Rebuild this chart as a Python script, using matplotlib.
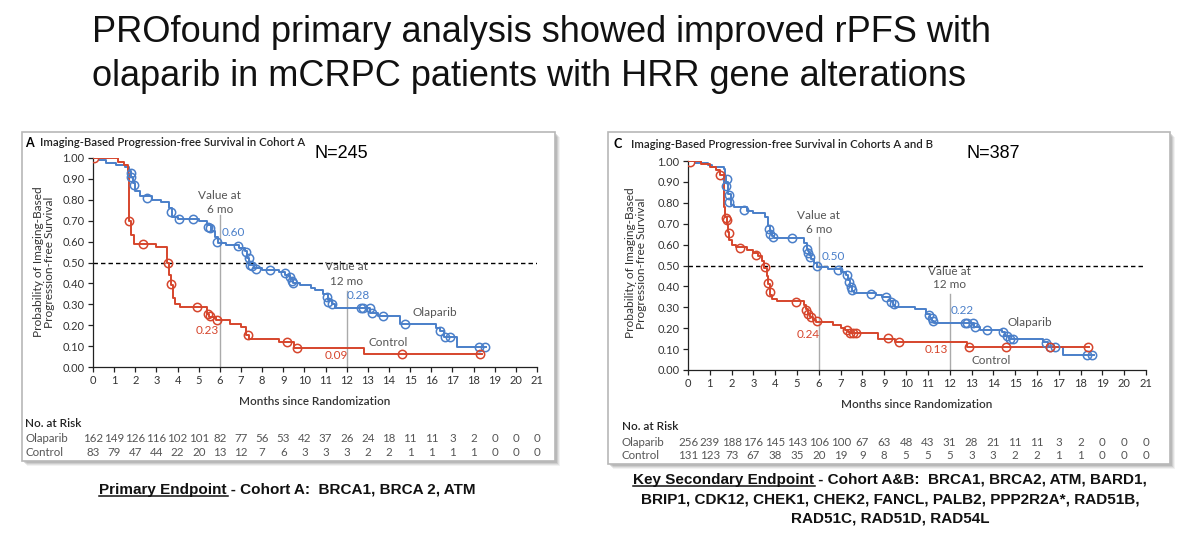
# PROfound rPFS Kaplan-Meier panels (cohort A and cohorts A+B)
import numpy as np
import matplotlib.pyplot as plt
from matplotlib.patches import Rectangle
from matplotlib.lines import Line2D
import matplotlib.transforms as mtransforms

# ---- data ----
months = list(range(22))

# cohort A, olaparib: step times / survival after the step
a_ola_t = [0, 0.3, 0.6, 1.1, 1.5, 1.7, 1.8, 1.9, 2.0, 2.2, 2.8, 3.2, 3.6, 3.75, 4.0, 5.0, 5.4, 5.6, 5.75, 5.9,
           6.3, 6.9, 7.2, 7.3, 7.4, 7.6, 8.0, 8.8, 9.1, 9.3, 9.45, 9.8, 10.3, 10.5, 10.9, 11.1, 11.3, 11.45,
           13.1, 13.5, 14.5, 16.2, 16.4, 16.6, 17.2, 18.6]
a_ola_s = [1.00, 0.99, 0.975, 0.965, 0.955, 0.94, 0.91, 0.88, 0.84, 0.82, 0.80, 0.79, 0.76, 0.72, 0.71, 0.70,
           0.68, 0.65, 0.62, 0.595, 0.585, 0.57, 0.555, 0.52, 0.49, 0.475, 0.465, 0.455, 0.44, 0.42, 0.40,
           0.39, 0.38, 0.37, 0.35, 0.32, 0.30, 0.28, 0.26, 0.245, 0.205, 0.185, 0.17, 0.145, 0.097, 0.097]
a_ola_cens_t = [1.78, 1.82, 1.94, 2.57, 3.7, 4.05, 4.75, 5.45, 5.52, 5.87, 6.87, 7.24, 7.37, 7.43, 7.52, 7.72,
                8.35, 9.06, 9.3, 9.42, 9.48, 11.05, 11.13, 11.29, 12.68, 12.79, 13.1, 13.18, 13.7, 14.76,
                16.41, 16.65, 16.89, 18.27, 18.54]
a_ola_cens_s = [0.93, 0.91, 0.87, 0.81, 0.74, 0.71, 0.71, 0.67, 0.665, 0.60, 0.58, 0.55, 0.52, 0.49, 0.485,
                0.47, 0.465, 0.45, 0.43, 0.41, 0.40, 0.336, 0.312, 0.30, 0.28, 0.28, 0.28, 0.257, 0.245, 0.205,
                0.17, 0.145, 0.145, 0.097, 0.097]

# cohort A, control
a_ctl_t = [0, 1.2, 1.45, 1.65, 1.7, 1.8, 1.95, 3.0, 3.5, 3.6, 3.7, 3.8, 3.9, 4.1, 5.4, 5.5, 5.8, 6.5, 7.0,
           7.25, 7.4, 8.8, 9.5, 12.8, 18.4]
a_ctl_s = [1.0, 0.98, 0.965, 0.93, 0.70, 0.63, 0.59, 0.575, 0.50, 0.44, 0.39, 0.33, 0.30, 0.285, 0.255, 0.24,
           0.223, 0.207, 0.19, 0.155, 0.135, 0.12, 0.093, 0.062, 0.062]
a_ctl_cens_t = [0.05, 1.72, 2.36, 3.57, 3.7, 4.93, 5.45, 5.54, 5.86, 7.32, 9.18, 9.64, 14.6, 18.3]
a_ctl_cens_s = [1.0, 0.70, 0.59, 0.50, 0.395, 0.287, 0.255, 0.242, 0.223, 0.155, 0.12, 0.093, 0.062, 0.062]

# cohorts A and B, olaparib
c_ola_t = [0, 0.3, 0.9, 1.1, 1.65, 1.7, 1.75, 1.85, 1.95, 2.1, 2.7, 3.0, 3.55, 3.65, 3.75, 3.85, 3.95, 5.3,
           5.45, 5.5, 5.55, 5.65, 5.8, 5.9, 6.4, 7.0, 7.25, 7.35, 7.42, 7.5, 7.6, 8.6, 8.9, 9.25, 9.4, 9.5,
           10.4, 10.9, 11.1, 11.2, 11.3, 13.1, 13.4, 14.4, 14.55, 14.7, 16.3, 16.5, 17.2, 18.6]
c_ola_s = [1.0, 0.99, 0.98, 0.97, 0.96, 0.93, 0.90, 0.84, 0.79, 0.78, 0.76, 0.75, 0.73, 0.69, 0.66, 0.64,
           0.63, 0.61, 0.58, 0.57, 0.55, 0.53, 0.51, 0.495, 0.485, 0.47, 0.455, 0.43, 0.40, 0.38, 0.37, 0.36,
           0.35, 0.33, 0.31, 0.30, 0.29, 0.27, 0.25, 0.235, 0.225, 0.205, 0.19, 0.18, 0.165, 0.15, 0.135,
           0.112, 0.072, 0.072]
c_ola_cens_t = [1.76, 1.79, 1.87, 1.9, 2.56, 3.7, 3.78, 3.9, 4.78, 5.47, 5.51, 5.59, 5.93, 6.88, 7.3, 7.38,
                7.46, 7.53, 8.38, 9.07, 9.3, 9.45, 11.06, 11.17, 11.25, 12.7, 12.81, 13.05, 13.15, 13.69,
                14.46, 14.61, 14.76, 14.89, 16.41, 16.6, 16.83, 18.28, 18.54]
c_ola_cens_s = [0.88, 0.916, 0.836, 0.804, 0.767, 0.677, 0.653, 0.637, 0.63, 0.58, 0.56, 0.54, 0.497, 0.48,
                0.454, 0.42, 0.398, 0.382, 0.366, 0.35, 0.326, 0.314, 0.263, 0.247, 0.236, 0.225, 0.225,
                0.225, 0.205, 0.19, 0.18, 0.165, 0.15, 0.15, 0.128, 0.112, 0.112, 0.072, 0.072]

# cohorts A and B, control
c_ctl_t = [0, 0.6, 1.0, 1.3, 1.45, 1.65, 1.7, 1.8, 1.85, 1.9, 2.0, 2.2, 2.7, 3.0, 3.2, 3.4, 3.5, 3.6, 3.65,
           3.75, 3.85, 4.1, 5.3, 5.4, 5.5, 5.6, 5.75, 5.85, 6.67, 7.0, 7.2, 7.35, 7.45, 8.7, 9.5, 12.8, 18.4]
c_ctl_s = [1.0, 0.985, 0.97, 0.955, 0.935, 0.78, 0.73, 0.70, 0.66, 0.62, 0.60, 0.59, 0.575, 0.56, 0.545,
           0.52, 0.49, 0.45, 0.41, 0.36, 0.34, 0.33, 0.31, 0.29, 0.27, 0.255, 0.24, 0.232, 0.215, 0.20, 0.19,
           0.18, 0.175, 0.15, 0.135, 0.108, 0.108]
c_ctl_cens_t = [0.1, 1.48, 1.73, 1.79, 1.87, 2.37, 3.12, 3.55, 3.66, 3.75, 4.93, 5.42, 5.51, 5.62, 5.9, 7.3,
                7.43, 7.58, 7.72, 9.17, 9.67, 12.9, 14.58, 16.6, 18.35]
c_ctl_cens_s = [0.995, 0.935, 0.729, 0.72, 0.656, 0.586, 0.55, 0.494, 0.414, 0.371, 0.326, 0.287, 0.27,
                0.255, 0.236, 0.19, 0.178, 0.175, 0.175, 0.151, 0.135, 0.108, 0.108, 0.108, 0.108]

# numbers at risk
a_risk_ola = [162, 149, 126, 116, 102, 101, 82, 77, 56, 53, 42, 37, 26, 24, 18, 11, 11, 3, 2, 0, 0, 0]
a_risk_ctl = [83, 79, 47, 44, 22, 20, 13, 12, 7, 6, 3, 3, 3, 2, 2, 1, 1, 1, 1, 0, 0, 0]
c_risk_ola = [256, 239, 188, 176, 145, 143, 106, 100, 67, 63, 48, 43, 31, 28, 21, 11, 11, 3, 2, 0, 0, 0]
c_risk_ctl = [131, 123, 73, 67, 38, 35, 20, 19, 9, 8, 5, 5, 5, 3, 3, 2, 2, 1, 1, 0, 0, 0]

# landmark values
a_val6 = ("0.60", "0.23")
a_val12 = ("0.28", "0.09")
c_val6 = ("0.50", "0.24")
c_val12 = ("0.22", "0.13")

BLUE = '#4a7fc9'
RED = '#d6452c'
GREY = '#555555'
SMALL = 'Lato'
BIG = 'Liberation Sans'

W, H = 1200, 543
fig = plt.figure(figsize=(12, 5.43), dpi=100)


def fx(x):
    return x / W


def fy(y):
    return 1 - y / H


def frame(x0, y0, x1, y1):
    # soft drop shadow then the white card, both under the axes
    for off, a in [(5, 0.10), (4, 0.15), (3, 0.2), (2, 0.25)]:
        fig.add_artist(Rectangle((fx(x0 + off), fy(y1 + off)), fx(x1 - x0), (y1 - y0) / H,
                                 transform=fig.transFigure, facecolor='#808080', edgecolor='none',
                                 alpha=a, zorder=-3))
    fig.add_artist(Rectangle((fx(x0), fy(y1)), fx(x1 - x0), (y1 - y0) / H, transform=fig.transFigure,
                             facecolor='white', edgecolor='#b8b8b8', lw=1.2, zorder=-2))


def km_panel(rect, ola_t, ola_s, ola_ct, ola_cs, ctl_t, ctl_s, ctl_ct, ctl_cs, v6, v12, lines6, lines12,
             pos):
    ax = fig.add_axes(rect)
    ax.set_facecolor('none')
    ax.set_xlim(0, 21)
    ax.set_ylim(0, 1.0)
    for s in ['top', 'right']:
        ax.spines[s].set_visible(False)
    for s in ['left', 'bottom']:
        ax.spines[s].set_linewidth(0.9)
        ax.spines[s].set_color('#222222')
    ax.set_xticks(months)
    ax.set_xticklabels([str(m) for m in months], fontfamily=SMALL, fontsize=8, color='#333333')
    yt = np.round(np.arange(0, 1.01, 0.1), 2)
    ax.set_yticks(yt)
    ax.set_yticklabels(['%.2f' % v for v in yt], fontfamily=SMALL, fontsize=8, color='#333333')
    ax.tick_params(direction='out', length=3.5, width=0.9, pad=2.5, color='#222222')

    ax.axhline(0.5, color='black', lw=1.0, ls=(0, (3.2, 2.2)), zorder=1)
    ax.plot([6, 6], [0, lines6], color='#aaaaaa', lw=1.0, zorder=1)
    ax.plot([12, 12], [0, lines12], color='#aaaaaa', lw=1.0, zorder=1)

    ax.step(ola_t, ola_s, where='post', color=BLUE, lw=1.4, zorder=3)
    ax.step(ctl_t, ctl_s, where='post', color=RED, lw=1.4, zorder=3)
    ax.plot(ola_ct, ola_cs, 'o', ms=6, mfc='none', mec=BLUE, mew=1.1, zorder=4)
    ax.plot(ctl_ct, ctl_cs, 'o', ms=6, mfc='none', mec=RED, mew=1.1, zorder=4)

    txt = dict(fontfamily=SMALL, fontsize=8.5, ha='center', va='center')
    ax.text(6, pos['v6'][0], 'Value at', color=GREY, **txt)
    ax.text(6, pos['v6'][1], '6 mo', color=GREY, **txt)
    ax.text(12, pos['v12'][0], 'Value at', color=GREY, **txt)
    ax.text(12, pos['v12'][1], '12 mo', color=GREY, **txt)
    ax.text(pos['o6'][0], pos['o6'][1], v6[0], color=BLUE, **txt)
    ax.text(pos['c6'][0], pos['c6'][1], v6[1], color=RED, **txt)
    ax.text(pos['o12'][0], pos['o12'][1], v12[0], color=BLUE, **txt)
    ax.text(pos['c12'][0], pos['c12'][1], v12[1], color=RED, **txt)
    ax.text(pos['ol'][0], pos['ol'][1], 'Olaparib', color=GREY, **txt)
    ax.text(pos['cl'][0], pos['cl'][1], 'Control', color=GREY, **txt)
    return ax


def risk_table(ax, xlab_y, head_y, row1_y, row2_y, label_x, r1, r2):
    tr = mtransforms.blended_transform_factory(ax.transData, fig.transFigure)
    ax.text(10.5, fy(xlab_y), 'Months since Randomization', transform=tr, ha='center', va='center',
            fontfamily=SMALL, fontsize=8.5, fontweight='semibold', color='#333333')
    fig.text(fx(label_x), fy(head_y), 'No. at Risk', ha='left', va='center', fontfamily=SMALL,
             fontsize=8.5, fontweight='semibold', color='#222222')
    fig.text(fx(label_x), fy(row1_y), 'Olaparib', ha='left', va='center', fontfamily=SMALL, fontsize=8.3,
             color=GREY)
    fig.text(fx(label_x), fy(row2_y), 'Control', ha='left', va='center', fontfamily=SMALL, fontsize=8.3,
             color=GREY)
    for m, a, b in zip(months, r1, r2):
        ax.text(m, fy(row1_y), str(a), transform=tr, ha='center', va='center', fontfamily=SMALL,
                fontsize=8.3, color=GREY)
        ax.text(m, fy(row2_y), str(b), transform=tr, ha='center', va='center', fontfamily=SMALL,
                fontsize=8.3, color=GREY)


# ---- title ----
fig.text(fx(92), fy(42), 'PROfound primary analysis showed improved rPFS with', fontfamily=BIG,
         fontsize=26, va='baseline', ha='left', color='#111111')
fig.text(fx(92), fy(86), 'olaparib in mCRPC patients with HRR gene alterations', fontfamily=BIG,
         fontsize=26, va='baseline', ha='left', color='#111111')

# ---- panel A ----
frame(22, 132, 555, 461)
fig.text(fx(25), fy(143), 'A', fontfamily=SMALL, fontsize=9, fontweight='bold', va='center')
fig.text(fx(40), fy(143), 'Imaging-Based Progression-free Survival in Cohort A', fontfamily=SMALL,
         fontsize=8.2, fontweight='semibold', va='center', color='#222222')
fig.text(fx(315), fy(153), 'N=245', fontfamily=BIG, fontsize=13, va='center', ha='left')
fig.text(fx(44), fy(262), 'Probability of Imaging-Based\nProgression-free Survival', rotation=90,
         ha='center', va='center', fontfamily=SMALL, fontsize=8.6, color='#333333', linespacing=1.1)
axA = km_panel([fx(93), fy(367), (537 - 93) / W, 209 / H],
               a_ola_t, a_ola_s, a_ola_cens_t, a_ola_cens_s,
               a_ctl_t, a_ctl_s, a_ctl_cens_t, a_ctl_cens_s,
               a_val6, a_val12, 0.725, 0.365,
               dict(v6=(0.82, 0.755), v12=(0.48, 0.41), o6=(6.66, 0.645), c6=(5.4, 0.175),
                    o12=(12.55, 0.344), c12=(11.53, 0.054), ol=(16.18, 0.26), cl=(13.94, 0.118)))
risk_table(axA, 401.5, 423.5, 438.5, 452, 25, a_risk_ola, a_risk_ctl)

# ---- panel C ----
frame(608, 132, 1170, 464)
fig.text(fx(614), fy(144), 'C', fontfamily=SMALL, fontsize=9, fontweight='bold', va='center')
fig.text(fx(631), fy(144), 'Imaging-Based Progression-free Survival in Cohorts A and B', fontfamily=SMALL,
         fontsize=8.2, fontweight='semibold', va='center', color='#222222')
fig.text(fx(966), fy(153), 'N=387', fontfamily=BIG, fontsize=13, va='center', ha='left')
fig.text(fx(636), fy(263), 'Probability of Imaging-Based\nProgression-free Survival', rotation=90,
         ha='center', va='center', fontfamily=SMALL, fontsize=8.6, color='#333333', linespacing=1.1)
axC = km_panel([fx(688), fy(370), (1146 - 688) / W, 209 / H],
               c_ola_t, c_ola_s, c_ola_cens_t, c_ola_cens_s,
               c_ctl_t, c_ctl_s, c_ctl_cens_t, c_ctl_cens_s,
               c_val6, c_val12, 0.637, 0.363,
               dict(v6=(0.74, 0.674), v12=(0.47, 0.41), o6=(6.66, 0.541), c6=(5.51, 0.172),
                    o12=(12.58, 0.283), c12=(11.4, 0.098), ol=(15.68, 0.226), cl=(13.89, 0.045)))
risk_table(axC, 404.5, 426.5, 442.5, 455.5, 622, c_risk_ola, c_risk_ctl)

# ---- captions with underlined lead-in ----
cap = dict(fontfamily=BIG, fontsize=11, fontweight='bold', ha='center', va='center', color='#111111')
capA = fig.text(fx(287), fy(490), 'Primary Endpoint - Cohort A:  BRCA1, BRCA 2, ATM', **cap)
capC1 = fig.text(fx(890), fy(480), 'Key Secondary Endpoint - Cohort A&B:  BRCA1, BRCA2, ATM, BARD1,', **cap)
fig.text(fx(890), fy(499), 'BRIP1, CDK12, CHEK1, CHEK2, FANCL, PALB2, PPP2R2A*, RAD51B,', **cap)
fig.text(fx(890), fy(518.5), 'RAD51C, RAD51D, RAD54L', **cap)

fig.canvas.draw()
renderer = fig.canvas.get_renderer()
for t, lead in [(capA, 'Primary Endpoint '), (capC1, 'Key Secondary Endpoint ')]:
    bb = t.get_window_extent(renderer)
    probe = fig.text(0, 0, lead, **cap)
    w = probe.get_window_extent(renderer).width
    probe.remove()
    yline = bb.y0 + 1
    fig.add_artist(Line2D([bb.x0 / W, (bb.x0 + w - 3) / W], [yline / H, yline / H],
                          transform=fig.transFigure, color='#111111', lw=1.1))

fig.savefig('out.png', dpi=100)
